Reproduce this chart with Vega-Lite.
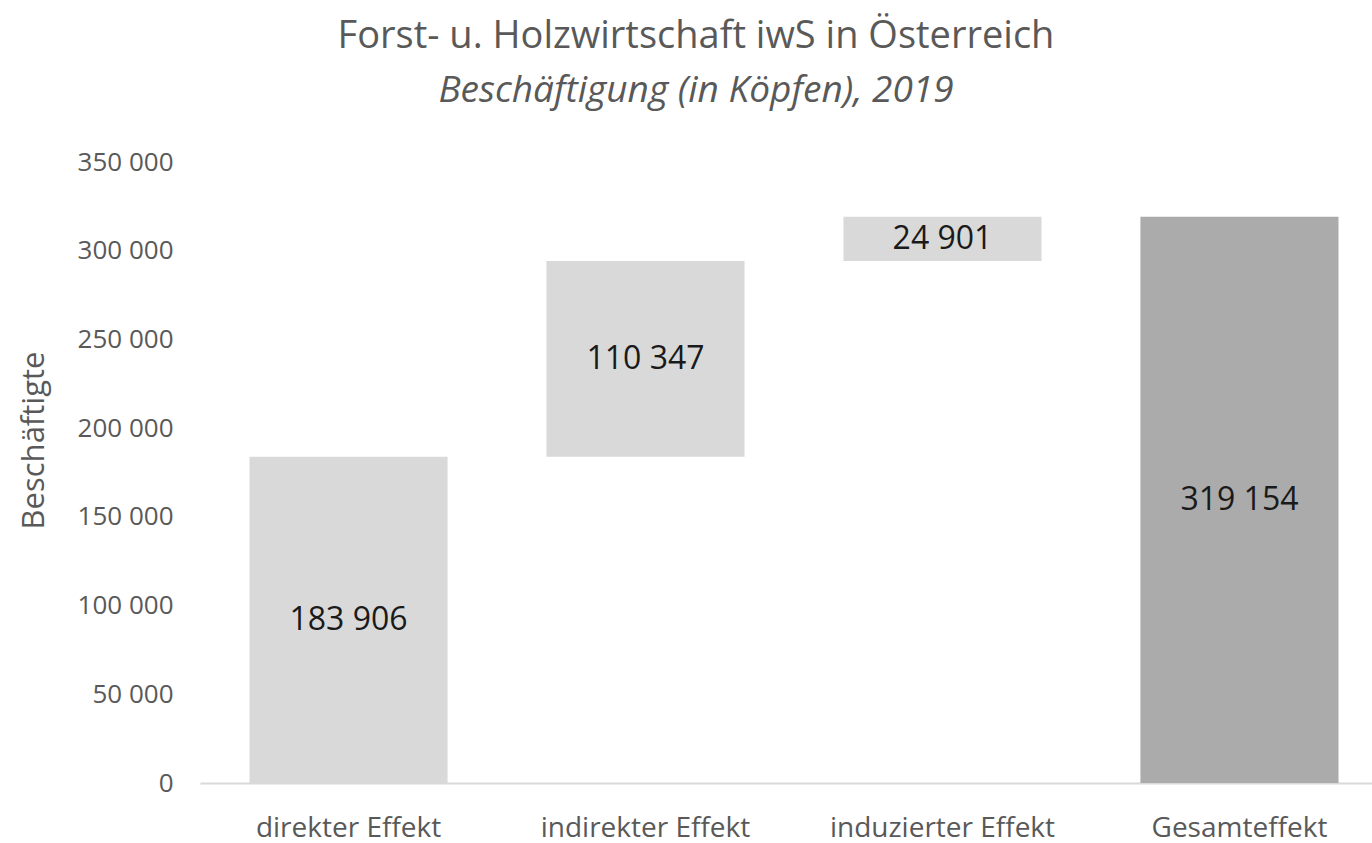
{
  "$schema": "https://vega.github.io/schema/vega-lite/v6.json",
  "autosize": {"type": "none"},
  "width": 1188,
  "height": 621,
  "padding": {"left": 200, "top": 162, "right": 0, "bottom": 60},
  "background": "white",
  "config": {
    "locale": {"number": {"decimal": ",", "thousands": " ", "grouping": [3], "currency": ["", " €"]}},
    "view": {"stroke": null},
    "font": "Open Sans"
  },
  "title": {
    "text": "Forst- u. Holzwirtschaft iwS in Österreich",
    "subtitle": "Beschäftigung (in Köpfen), 2019",
    "anchor": "middle",
    "dx": -98,
    "offset": 40,
    "font": "Open Sans",
    "fontSize": 38,
    "fontWeight": "normal",
    "color": "#595959",
    "subtitleFont": "Open Sans",
    "subtitleFontSize": 37,
    "subtitleFontStyle": "italic",
    "subtitleColor": "#595959",
    "subtitlePadding": 17
  },
  "data": {
    "values": [
      {"kategorie": "direkter Effekt", "start": 0, "ende": 183906, "wert": 183906, "typ": "teil"},
      {"kategorie": "indirekter Effekt", "start": 183906, "ende": 294253, "wert": 110347, "typ": "teil"},
      {"kategorie": "induzierter Effekt", "start": 294253, "ende": 319154, "wert": 24901, "typ": "teil"},
      {"kategorie": "Gesamteffekt", "start": 0, "ende": 319154, "wert": 319154, "typ": "gesamt"}
    ]
  },
  "transform": [{"calculate": "(datum.start + datum.ende) / 2", "as": "mitte"}],
  "encoding": {
    "x": {
      "field": "kategorie",
      "type": "nominal",
      "sort": null,
      "scale": {"paddingInner": 0.333, "paddingOuter": 0.1667},
      "axis": {
        "title": null,
        "labelAngle": 0,
        "labelFontSize": 28,
        "labelColor": "#595959",
        "labelPadding": 31,
        "labelLimit": 0,
        "ticks": false,
        "domainColor": "#d9d9d9",
        "domainWidth": 2,
        "grid": false
      }
    }
  },
  "layer": [
    {
      "mark": {"type": "bar"},
      "encoding": {
        "y": {
          "field": "start",
          "type": "quantitative",
          "scale": {"domain": [0, 350000], "nice": false},
          "axis": {
            "title": "Beschäftigte",
            "titleFontSize": 31,
            "titleFontWeight": "normal",
            "titleColor": "#595959",
            "titleX": -150,
            "titleY": 278,
            "titleAngle": -90,
            "titleAlign": "center",
            "titleBaseline": "bottom",
            "values": [0, 50000, 100000, 150000, 200000, 250000, 300000, 350000],
            "format": ",d",
            "labelFontSize": 26,
            "labelColor": "#595959",
            "labelPadding": 27,
            "ticks": false,
            "domain": false,
            "grid": false
          }
        },
        "y2": {"field": "ende"},
        "color": {
          "field": "typ",
          "type": "nominal",
          "scale": {"domain": ["teil", "gesamt"], "range": ["#d9d9d9", "#ababab"]},
          "legend": null
        }
      }
    },
    {
      "mark": {"type": "text", "fontSize": 32, "color": "#1a1a1a", "baseline": "middle", "align": "center"},
      "encoding": {
        "y": {"field": "mitte", "type": "quantitative"},
        "text": {"field": "wert", "type": "quantitative", "format": ",d"}
      }
    }
  ]
}
